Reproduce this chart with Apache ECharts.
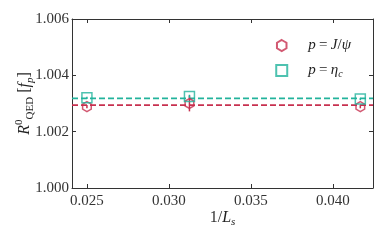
<!DOCTYPE html>
<html><head><meta charset="utf-8">
<script src="https://cdn.jsdelivr.net/npm/echarts@6/dist/echarts.min.js"></script>
<style>html,body{margin:0;padding:0;background:#fff}#c{width:390px;height:241px}</style>
</head><body><div id="c"></div>
<script>
const xVals = [0.025, 0.03125, 0.0416667];
const jpsiVals = [1.00289, 1.00300, 1.00289];
const jpsiErr = [0.00006, 0.00028, 0.00006];
const etacVals = [1.00320, 1.00325, 1.00316];
const etacErr = [0.00004, 0.00006, 0.00004];
const jpsiFit = 1.00294;
const etacFit = 1.00318;
const xTicks = [0.025, 0.030, 0.035, 0.040];
const xMin = 0.02409, xMax = 0.04244;

const RED = '#c7304f', TEAL = '#22b39c';
const SERIF = '"Liberation Serif","DejaVu Serif",serif';
const HEX = 'path://M0,-1L0.866,-0.5L0.866,0.5L0,1L-0.866,0.5L-0.866,-0.5Z';

function errSeries(vals, errs, color) {
  return {
    type: 'custom', silent: true, z: 3,
    data: xVals.map((x, i) => [x, vals[i] - errs[i], vals[i] + errs[i]]),
    renderItem: function (params, api) {
      const a = api.coord([api.value(0), api.value(1)]);
      const b = api.coord([api.value(0), api.value(2)]);
      return { type: 'line', shape: {x1: a[0], y1: a[1], x2: b[0], y2: b[1]},
               style: {stroke: color, lineWidth: 1.5} };
    }
  };
}
function fitSeries(v, color) {
  return {type: 'line', silent: true, z: 2, symbol: 'none', data: [[xMin, v], [xMax, v]],
    lineStyle: {color: color, width: 1.8, type: [6, 3]}};
}
const axisCommon = {
  axisLine: {show: true, lineStyle: {color: '#333', width: 1}},
  axisTick: {show: true, inside: true, length: 4, lineStyle: {color: '#333'}},
  splitLine: {show: false}
};
const rich = {
  n: {fontFamily: SERIF, fontSize: 16, color: '#222'},
  i: {fontFamily: SERIF, fontSize: 16, fontStyle: 'italic', color: '#222'},
  sup: {fontFamily: SERIF, fontSize: 11, color: '#222', verticalAlign: 'top'},
  sub: {fontFamily: SERIF, fontSize: 11, color: '#222', verticalAlign: 'bottom'},
  subi: {fontFamily: SERIF, fontSize: 11, fontStyle: 'italic', color: '#222', verticalAlign: 'bottom'}
};
const chart = echarts.init(document.getElementById('c'), null, {renderer: 'canvas'});
chart.setOption({
  animation: false,
  grid: {left: 72, right: 17, top: 19, bottom: 53, outerBoundsMode: 'none', containLabel: false},
  legend: {
    right: 34, top: 33, orient: 'vertical', itemGap: 10, itemWidth: 11, itemHeight: 11,
    data: ['J', 'eta'],
    formatter: function (name) {
      return name === 'J' ? '{i|p} {n|=} {i|J}{n|/}{i|ψ}' : '{i|p} {n|=} {i|η}{subi|c}';
    },
    textStyle: {padding: [0, 0, 0, 16], rich: {
      n: {fontFamily: SERIF, fontSize: 15, color: '#222'},
      i: {fontFamily: SERIF, fontSize: 15, fontStyle: 'italic', color: '#222'},
      subi: {fontFamily: SERIF, fontSize: 10, fontStyle: 'italic', color: '#222', verticalAlign: 'bottom', lineHeight: 18}
    }}
  },
  xAxis: [Object.assign({}, axisCommon, {
    type: 'value', min: xMin, max: xMax, position: 'bottom',
    axisTick: Object.assign({}, axisCommon.axisTick, {customValues: xTicks}),
    axisLabel: {customValues: xTicks, fontFamily: SERIF, fontSize: 15, color: '#333', margin: 6,
      formatter: v => v.toFixed(3), showMinLabel: true, showMaxLabel: true},
    name: '1/{i|L}{subi|s}', nameLocation: 'middle', nameGap: 20, nameMoveOverlap: false,
    nameTextStyle: {rich: rich, fontFamily: SERIF, fontSize: 16, lineHeight: 20}
  }), Object.assign({}, axisCommon, {
    type: 'value', min: xMin, max: xMax, position: 'top',
    axisTick: Object.assign({}, axisCommon.axisTick, {customValues: xTicks}),
    axisLabel: {show: false}
  })],
  yAxis: [Object.assign({}, axisCommon, {
    type: 'value', min: 1.000, max: 1.006, interval: 0.002, position: 'left',
    axisLabel: {fontFamily: SERIF, fontSize: 15, color: '#333', margin: 3, formatter: v => v.toFixed(3)},
    name: '{i|R}{sup|0}{sub|QED} {n|[}{i|f}{subi|p}{n|]}', nameLocation: 'middle', nameGap: 36, nameRotate: 90, nameMoveOverlap: false,
    nameTextStyle: {rich: rich, fontFamily: SERIF, fontSize: 16, lineHeight: 22}
  }), Object.assign({}, axisCommon, {
    type: 'value', min: 1.000, max: 1.006, interval: 0.002, position: 'right',
    axisLabel: {show: false}
  })],
  series: [
    fitSeries(jpsiFit, RED),
    fitSeries(etacFit, TEAL),
    errSeries(jpsiVals, jpsiErr, RED),
    errSeries(etacVals, etacErr, TEAL),
    {
      name: 'J', type: 'scatter', z: 4, symbol: HEX, symbolKeepAspect: true, symbolSize: 10,
      itemStyle: {color: 'rgba(255,255,255,0)', borderColor: RED, borderWidth: 1.5},
      data: xVals.map((x, i) => [x, jpsiVals[i]])
    },
    {
      name: 'eta', type: 'scatter', z: 4, symbol: 'rect', symbolSize: 10,
      itemStyle: {color: 'rgba(255,255,255,0)', borderColor: TEAL, borderWidth: 1.5},
      data: xVals.map((x, i) => [x, etacVals[i]])
    }
  ]
});
</script></body></html>
